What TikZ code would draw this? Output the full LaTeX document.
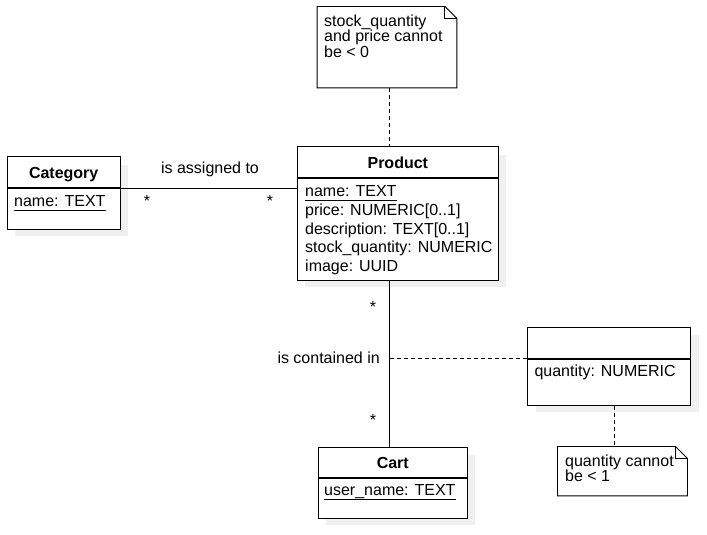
\documentclass[tikz,border=0pt]{standalone}
\usepackage{fontspec}
\setmainfont{Liberation Sans}
\definecolor{shadowgray}{HTML}{F0F0F0}
\begin{document}
\begin{tikzpicture}[x=1pt,y=-1pt,
  every node/.style={font=\fontsize{16}{19}\selectfont},
  part/.style={draw, fill=white, line width=0.9pt, inner sep=0pt, rectangle},
  shadowbox/.style={fill=shadowgray, draw=none},
  txt/.style={inner sep=0pt, anchor=base west},
  title/.style={inner sep=0pt, anchor=base, font=\fontsize{16}{19}\selectfont\bfseries},
  lbl/.style={inner sep=0pt},
  conn/.style={line width=0.9pt},
  dconn/.style={line width=0.9pt, dash pattern=on 4pt off 3pt},
  notebox/.style={draw=none, inner sep=0pt, rectangle}
]
\useasboundingbox (0,0) rectangle (707,535);

% shadows
\fill[shadowgray] (15.3,164.7) rectangle (128,236.3);
\fill[shadowgray] (305.3,154.7) rectangle (506.3,287.3);
\fill[shadowgray] (326.3,455.3) rectangle (475.3,525.3);
\fill[shadowgray] (535.7,335.3) rectangle (698.7,412.3);

% Category
\node[part, minimum width=112.7pt, minimum height=31pt] (cathead) at (63.7,172.2) {};
\node[part, minimum width=112.7pt, minimum height=40.6pt, anchor=north] (catbody) at (cathead.south) {};
\node[title] (catname) at (63.7,178) {Category};
\node[txt] (catattr) at (14,206) {name: TEXT};
\draw[line width=0.8pt] ([yshift=-4pt]catattr.base west) -- ([yshift=-4pt]catattr.base east);

% Product
\node[part, minimum width=201pt, minimum height=31pt] (prodhead) at (397.8,162.2) {};
\node[part, minimum width=201pt, minimum height=101.6pt, anchor=north] (prodbody) at (prodhead.south) {};
\node[title] (prodname) at (397.8,168) {Product};
\node[txt] (pa1) at (305,196) {name: TEXT};
\draw[line width=0.8pt] ([yshift=-4pt]pa1.base west) -- ([yshift=-4pt]pa1.base east);
\node[txt] (pa2) at (305,215) {price: NUMERIC[0..1]};
\node[txt] (pa3) at (305,234) {description: TEXT[0..1]};
\node[txt] (pa4) at (305,252.5) {stock\_quantity: NUMERIC};
\node[txt] (pa5) at (305,271) {image: UUID};

% Cart
\node[part, minimum width=149pt, minimum height=30.4pt] (carthead) at (392.8,462.5) {};
\node[part, minimum width=149pt, minimum height=39.6pt, anchor=north] (cartbody) at (carthead.south) {};
\node[title] (cartname) at (392.8,468) {Cart};
\node[txt] (ca1) at (324,495) {user\_name: TEXT};
\draw[line width=0.8pt] ([yshift=-4pt]ca1.base west) -- ([yshift=-4pt]ca1.base east);

% Association class
\node[part, minimum width=163pt, minimum height=31pt] (aschead) at (609.2,342.8) {};
\node[part, minimum width=163pt, minimum height=46pt, anchor=north] (ascbody) at (aschead.south) {};
\node[txt] (as1) at (534.3,376) {quantity: NUMERIC};

% Note 1
\node[notebox, minimum width=139.4pt, minimum height=81pt] (note1) at (387,47.2) {};
\draw[line width=0.9pt, fill=white] (note1.north west) -- ([xshift=-12pt]note1.north east) -- ([yshift=-12pt]note1.north east) -- (note1.south east) -- (note1.south west) -- cycle;
\draw[line width=0.9pt] ([xshift=-12pt]note1.north east) -- ([xshift=-12pt,yshift=-12pt]note1.north east) -- ([yshift=-12pt]note1.north east);
\node[txt] (n1a) at (324,26.5) {stock\_quantity};
\node[txt] (n1b) at (324,41.8) {and price cannot};
\node[txt] (n1c) at (324,57.2) {be < 0};

% Note 2
\node[notebox, minimum width=129.6pt, minimum height=49pt] (note2) at (622.5,471.2) {};
\draw[line width=0.9pt, fill=white] (note2.north west) -- ([xshift=-12pt]note2.north east) -- ([yshift=-12pt]note2.north east) -- (note2.south east) -- (note2.south west) -- cycle;
\draw[line width=0.9pt] ([xshift=-12pt]note2.north east) -- ([xshift=-12pt,yshift=-12pt]note2.north east) -- ([yshift=-12pt]note2.north east);
\node[txt] (n2a) at (565,466) {quantity cannot};
\node[txt] (n2b) at (565,481.5) {be < 1};

% axes
\coordinate (axis) at (389.5,0);
\coordinate (axis2) at (614,0);

% connectors
\draw[conn] (cathead.south east) -- (cathead.south east -| prodbody.west);
\node[lbl, anchor=base] (l1) at (210,173.3) {is assigned to};
\node[lbl, anchor=base] (m1) at (147,206.5) {*};
\node[lbl, anchor=base] (m2) at (270,206.5) {*};

\draw[dconn] (note1.south -| axis) -- (prodhead.north -| axis);

\draw[conn] (prodbody.south -| axis) -- (carthead.north -| axis);
\node[lbl, anchor=base] (m3) at (373,312.2) {*};
\node[lbl, anchor=base] (m4) at (373,425.2) {*};
\node[lbl, anchor=base east] (l2) at (380,363.3) {is contained in};

\draw[dconn] (aschead.south west) -- (aschead.south west -| axis);
\draw[dconn] (ascbody.south -| axis2) -- (note2.north -| axis2);
\end{tikzpicture}
\end{document}
